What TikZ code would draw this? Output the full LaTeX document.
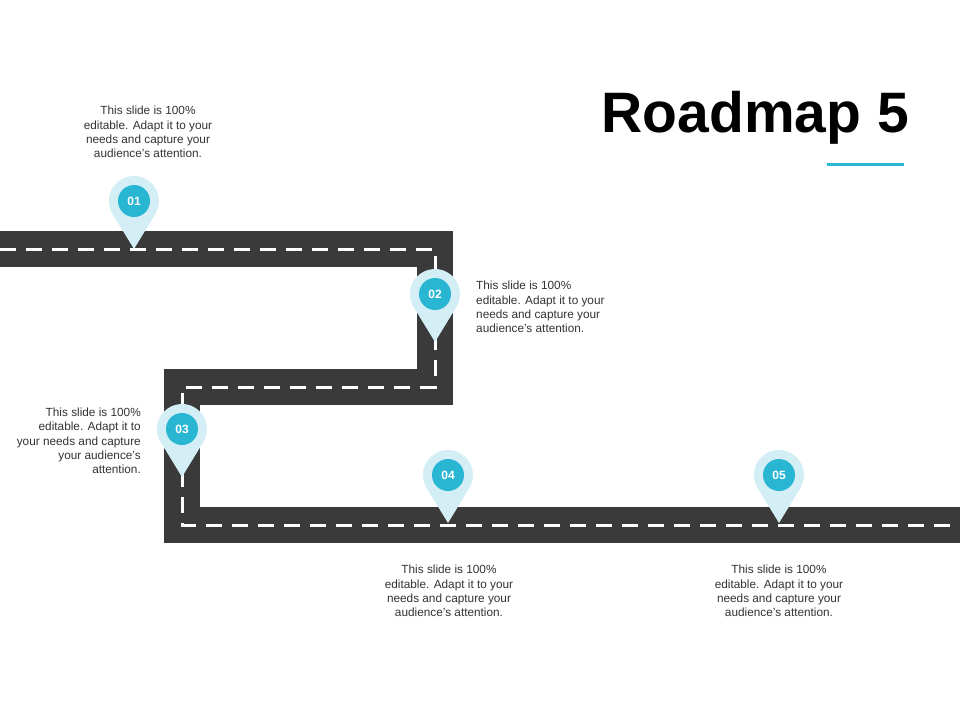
\documentclass[tikz,border=0pt]{standalone}
\usepackage{fontspec}
\setmainfont{Liberation Sans}
\definecolor{road}{HTML}{3A3A3A}
\definecolor{teal}{HTML}{29B6D3}
\definecolor{pale}{HTML}{D3EEF5}
\definecolor{txt}{HTML}{333333}
\begin{document}
\begin{tikzpicture}[x=1pt,y=-1pt,
  desc/.style={font=\fontsize{11.8}{14.3}\selectfont, text=txt, inner sep=0pt},
  pinnum/.style={circle, fill=teal, minimum size=32pt, inner sep=0pt, text=white, font=\bfseries\fontsize{12}{12}\selectfont}]
\useasboundingbox (0,0) rectangle (960,720);
\fill[white] (0,0) rectangle (960,720);
\coordinate (r0) at (0,249);
\coordinate (r1) at (435,249);
\coordinate (r2) at (435,387);
\coordinate (r3) at (182,387);
\coordinate (r4) at (182,525);
\coordinate (r5) at (960,525);
\draw[road, line width=36pt] (r0) -- (r1) -- (r2) -- (r3) -- (r4) -- (r5);
\draw[white, line width=3pt, dash pattern=on 16pt off 10pt] (r0) -- (r1) -- (r2) -- (r3) -- (r4) -- (r5);
\foreach \n/\x/\y in {01/134/201, 02/435/294, 03/182/429, 04/448/475, 05/779/475}{
  \fill[pale] (\x,\y+48) -- (\x+21.3,\y+13) arc[start angle=31.4, end angle=-211.4, radius=25] -- cycle;
  \node[pinnum] (p\n) at (\x,\y) {\n};
}
\node[desc, align=center] (t1) at (148,132) {This slide is 100\%\\editable. Adapt it to your\\needs and capture your\\audience's attention.};
\node[desc, align=left, anchor=west] (t2) at (476,307) {This slide is 100\%\\editable. Adapt it to your\\needs and capture your\\audience's attention.};
\node[desc, align=right, anchor=east] (t3) at (141,441) {This slide is 100\%\\editable. Adapt it to\\your needs and capture\\your audience's\\attention.};
\node[desc, align=center] (t4) at (449,591) {This slide is 100\%\\editable. Adapt it to your\\needs and capture your\\audience's attention.};
\node[desc, align=center] (t5) at (779,591) {This slide is 100\%\\editable. Adapt it to your\\needs and capture your\\audience's attention.};
\node[font=\bfseries\fontsize{57}{57}\selectfont, anchor=east, inner sep=0pt] (title) at (909,118) {Roadmap 5};
\draw[teal, line width=3pt] (827,164) -- (904,164);
\end{tikzpicture}
\end{document}
